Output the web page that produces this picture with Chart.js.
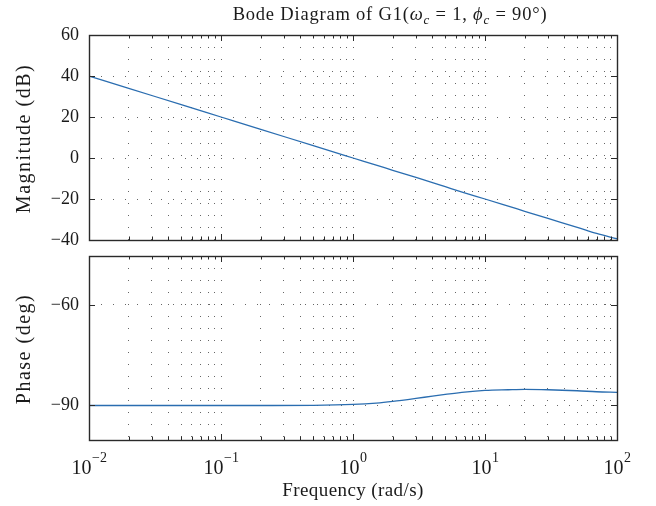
<!DOCTYPE html>
<html><head><meta charset="utf-8">
<script src="https://cdn.jsdelivr.net/npm/chart.js@4/dist/chart.umd.min.js"></script>
<style>
html,body{margin:0;padding:0;background:#fff;}
#wrap{position:relative;width:656px;height:506px;overflow:hidden;}
#c1{position:absolute;left:0;top:0;}
#c2{position:absolute;left:0;top:248px;}
</style></head><body>
<div id="wrap">
<canvas id="c1" width="656" height="248"></canvas>
<canvas id="c2" width="656" height="258"></canvas>
</div>
<script>
// ---- data ----
const frequency   = [0.01, 0.02, 0.05, 0.1, 0.2, 0.5, 1, 1.5, 2, 3, 4, 5, 7, 10, 15, 20, 30, 50, 70, 100];
const magnitudeDb = [40, 34, 26, 20, 14, 6, 0, -3.5, -6, -9.5, -12, -14, -17, -20, -23.5, -26, -29.5, -33.8, -36.8, -39.4];
const phaseDeg    = [-90, -90, -90, -90, -90, -89.95, -89.7, -89.3, -88.8, -87.9, -87.2, -86.7, -86.0, -85.5, -85.3, -85.2, -85.3, -85.6, -85.9, -86.1];
const magTicks    = [-40, -20, 0, 20, 40, 60];
const phaseTicks  = [-90, -60];
const decadeTicks = [0.01, 0.1, 1, 10, 100];
const decadeExp   = ['−2', '−1', '0', '1', '2'];
const magRange    = [-40, 60];
const phaseRange  = [-100.3, -45.4];
const freqRange   = [0.01, 100];
const magTitle    = 'Magnitude (dB)';
const phaseTitle  = 'Phase (deg)';
const freqTitle   = 'Frequency (rad/s)';
const titleParts  = [
  {t: 'Bode Diagram of G1(', s: 'n'},
  {t: 'ω', s: 'i'}, {t: 'c', s: 'sub'},
  {t: ' = 1, ', s: 'n'},
  {t: 'ϕ', s: 'i'}, {t: 'c', s: 'sub'},
  {t: ' = 90°)', s: 'n'}
];

const SERIF = '"Liberation Serif", "DejaVu Serif", serif';
const TXT = '#1a1a1a';
const LINE = '#2a6db0';
const GRID = 'rgba(0,0,0,0.6)';
const FRAME = '#2a2a2a';

// log-grid positions (1..9 per decade)
const xGrid = [];
for (let i = 0; i < decadeTicks.length - 1; i++) {
  for (let m = 1; m <= 9; m++) xGrid.push(+(m * decadeTicks[i]).toPrecision(6));
}
xGrid.push(decadeTicks[decadeTicks.length - 1]);

function fmt(v) { return v < 0 ? '−' + Math.abs(v) : String(v); }

const framePlugin = {
  id: 'frame',
  afterDraw(chart) {
    const ctx = chart.ctx;
    const {left, right, top, bottom} = chart.chartArea;
    const xs = chart.scales.x, ys = chart.scales.y;
    ctx.save();
    ctx.strokeStyle = FRAME;
    ctx.lineWidth = 1;
    ctx.beginPath();
    xGrid.forEach(v => {
      const px = Math.round(xs.getPixelForValue(v)) + 0.5;
      const len = decadeTicks.includes(v) ? 6 : 3.5;
      ctx.moveTo(px, top); ctx.lineTo(px, top + len);
      ctx.moveTo(px, bottom); ctx.lineTo(px, bottom - len);
    });
    ys.ticks.forEach(t => {
      const py = Math.round(ys.getPixelForValue(t.value)) + 0.5;
      ctx.moveTo(left, py); ctx.lineTo(left + 6, py);
      ctx.moveTo(right, py); ctx.lineTo(right - 6, py);
    });
    ctx.stroke();
    ctx.lineWidth = 1.4;
    ctx.strokeRect(Math.round(left) + 0.5, Math.round(top) + 0.5, Math.round(right - left), Math.round(bottom - top));
    // y-axis title
    const text = chart.options.plugins.frame.yTitle;
    ctx.fillStyle = TXT;
    ctx.font = '20px ' + SERIF;
    ctx.letterSpacing = '1.5px';
    ctx.textAlign = 'center';
    ctx.textBaseline = 'middle';
    ctx.translate(25, (top + bottom) / 2 + 1);
    ctx.rotate(-Math.PI / 2);
    ctx.fillText(text, 0, 0);
    ctx.restore();
  }
};

const xLabelPlugin = {
  id: 'xlabels',
  afterDraw(chart) {
    const ctx = chart.ctx;
    const xs = chart.scales.x;
    const bottom = chart.chartArea.bottom;
    ctx.save();
    ctx.fillStyle = TXT;
    ctx.textBaseline = 'alphabetic';
    ctx.textAlign = 'left';
    decadeTicks.forEach((v, i) => {
      const px = xs.getPixelForValue(v);
      ctx.font = '20px ' + SERIF;
      const wb = ctx.measureText('10').width;
      ctx.font = '14px ' + SERIF;
      const we = ctx.measureText(decadeExp[i]).width;
      const x0 = px - (wb + we) / 2;
      ctx.font = '20px ' + SERIF;
      ctx.fillText('10', x0, bottom + 34);
      ctx.font = '14px ' + SERIF;
      ctx.fillText(decadeExp[i], x0 + wb + 0.5, bottom + 22);
    });
    // x-axis title
    ctx.font = '19px ' + SERIF;
    ctx.letterSpacing = '0.4px';
    ctx.textAlign = 'center';
    ctx.fillText(freqTitle, (chart.chartArea.left + chart.chartArea.right) / 2, bottom + 56);
    ctx.restore();
  }
};

const titlePlugin = {
  id: 'titleTxt',
  afterDraw(chart) {
    const ctx = chart.ctx;
    ctx.save();
    ctx.fillStyle = TXT;
    ctx.textAlign = 'left';
    ctx.textBaseline = 'alphabetic';
    ctx.letterSpacing = '0.8px';
    const fontOf = s => s === 'n' ? '18.5px ' + SERIF : s === 'i' ? 'italic 18.5px ' + SERIF : 'italic 13px ' + SERIF;
    let total = 0;
    titleParts.forEach(p => { ctx.font = fontOf(p.s); p.w = ctx.measureText(p.t).width; total += p.w; });
    let x = 390 - total / 2;
    const base = 20;
    titleParts.forEach(p => {
      ctx.font = fontOf(p.s);
      ctx.fillText(p.t, x, p.s === 'sub' ? base + 4 : base);
      x += p.w;
    });
    ctx.restore();
  }
};

function makeChart(id, values, yTitle, yTicks, yRange, showX, pad, extraPlugins) {
  return new Chart(document.getElementById(id), {
    type: 'line',
    data: {
      datasets: [{
        data: frequency.map((f, i) => ({x: f, y: values[i]})),
        borderColor: LINE,
        borderWidth: 1.3,
        pointRadius: 0,
        fill: false,
        cubicInterpolationMode: 'monotone'
      }]
    },
    options: {
      responsive: false,
      devicePixelRatio: 1,
      animation: false,
      layout: {padding: pad},
      plugins: {legend: {display: false}, tooltip: {enabled: false}, title: {display: false},
                frame: {yTitle: yTitle}},
      scales: {
        x: {
          type: 'logarithmic',
          min: freqRange[0], max: freqRange[1],
          afterBuildTicks: s => { s.ticks = xGrid.map(v => ({value: v})); },
          afterFit: s => { s.height = showX ? 66 : 0; s.paddingLeft = 0; s.paddingRight = 0; },
          ticks: {display: false, autoSkip: false},
          grid: {color: GRID, lineWidth: 1, drawTicks: false},
          border: {display: false, dash: [1, 11]}
        },
        y: {
          min: yRange[0], max: yRange[1],
          afterBuildTicks: s => { s.ticks = yTicks.map(v => ({value: v})); },
          afterFit: s => { s.width = 89; s.paddingTop = 0; s.paddingBottom = 0; },
          ticks: {color: TXT, font: {family: SERIF, size: 18}, padding: 10, callback: v => fmt(v)},
          grid: {color: GRID, lineWidth: 1, drawTicks: false},
          border: {display: false, dash: [1, 11]}
        }
      }
    },
    plugins: [framePlugin].concat(extraPlugins)
  });
}

makeChart('c1', magnitudeDb, magTitle, magTicks, magRange, false,
  {top: 35, right: 39, bottom: 8, left: 0}, [titlePlugin]);
makeChart('c2', phaseDeg, phaseTitle, phaseTicks, phaseRange, true,
  {top: 8, right: 39, bottom: 0, left: 0}, [xLabelPlugin]);
</script>
</body></html>
